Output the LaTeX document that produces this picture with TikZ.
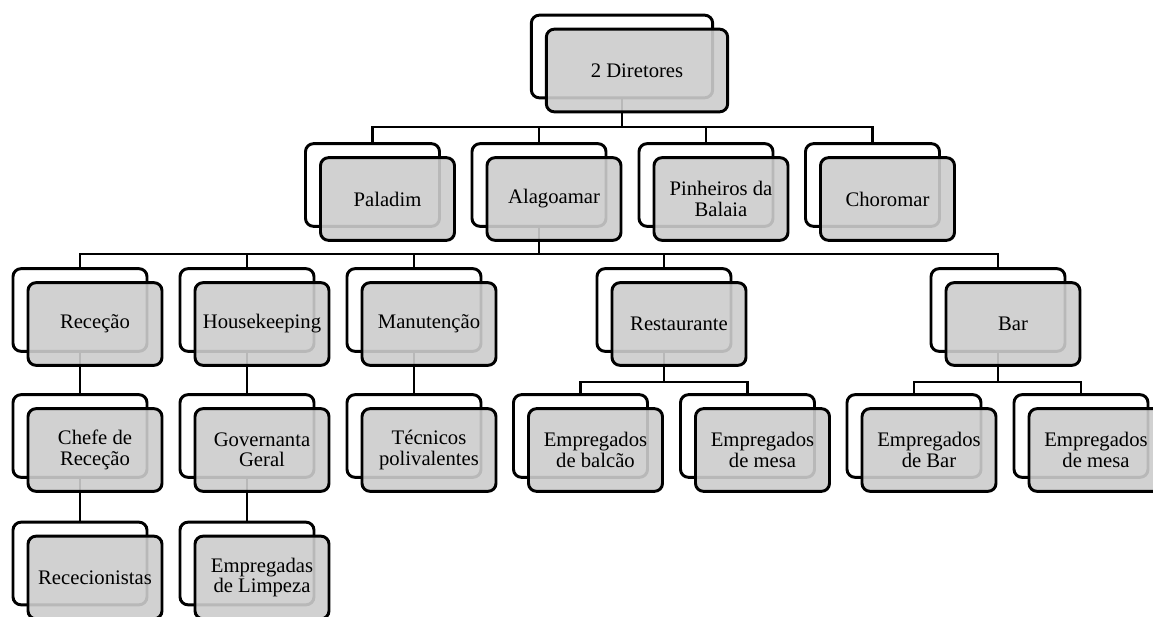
\documentclass[tikz,border=0pt]{standalone}
\usepackage{fontspec}
\setmainfont{Liberation Serif}
\definecolor{boxgray}{RGB}{204,204,204}
\tikzset{
  wbox/.style={draw=black, line width=2.2pt, rounded corners=6pt, fill=white,
    minimum width=#1, minimum height=62pt, inner sep=0pt},
  wbox/.default=100.5pt,
  gbox/.style={draw=black, line width=2.2pt, rounded corners=6pt, fill=boxgray,
    fill opacity=0.9, draw opacity=1, text opacity=1,
    minimum width=#1, minimum height=62pt, inner sep=0pt, align=center,
    font=\fontsize{15.5}{15.2}\selectfont},
  gbox/.default=100.5pt,
  conn/.style={draw=black, line width=2.2pt},
  gshift/.style={shift={(15,14)}}
}
\begin{document}
\begin{tikzpicture}[x=0.75pt,y=-0.75pt]
\useasboundingbox (0,0) rectangle (1153,617);
\begin{scope}
\clip (0,0) rectangle (1153,617);
% back (white) boxes
\node[wbox=136pt] (topw) at (622,56.5) {};
\node[wbox] (palw) at (372.5,185) {};
\node[wbox] (alaw) at (539,185) {};
\node[wbox] (pinw) at (706,185) {};
\node[wbox] (chow) at (872.5,185) {};
\node[wbox] (recw) at (80,310) {};
\node[wbox] (houw) at (247,310) {};
\node[wbox] (manw) at (414,310) {};
\node[wbox] (resw) at (664,310) {};
\node[wbox] (barw) at (998,310) {};
\node[wbox] (chefw) at (80,436) {};
\node[wbox] (govw) at (247,436) {};
\node[wbox] (tecw) at (414,436) {};
\node[wbox] (balw) at (580.5,436) {};
\node[wbox] (mesw) at (747.5,436) {};
\node[wbox] (ebarw) at (914,436) {};
\node[wbox] (mes2w) at (1081,436) {};
\node[wbox] (rcpw) at (80,563.5) {};
\node[wbox] (limw) at (247,563.5) {};
% buses
\coordinate (bus1) at (0,127);
\coordinate (bus2) at (0,254);
\coordinate (bus3) at (0,382);
% connectors
\foreach \c in {palw,alaw,pinw,chow}
  \draw[conn] (topw.south) -- (topw.south |- bus1) -| (\c.north);
\foreach \c in {recw,houw,manw,resw,barw}
  \draw[conn] (alaw.south) -- (alaw.south |- bus2) -| (\c.north);
\foreach \c in {balw,mesw}
  \draw[conn] (resw.south) -- (resw.south |- bus3) -| (\c.north);
\foreach \c in {ebarw,mes2w}
  \draw[conn] (barw.south) -- (barw.south |- bus3) -| (\c.north);
\draw[conn] (recw.south) -- (chefw.north);
\draw[conn] (houw.south) -- (govw.north);
\draw[conn] (manw.south) -- (tecw.north);
\draw[conn] (chefw.south) -- (rcpw.north);
\draw[conn] (govw.south) -- (limw.north);
% front (gray) boxes
\node[gbox=136pt] (top) at ([gshift]topw.center) {2 Diretores};
\node[gbox] (pal) at ([gshift]palw.center) {Paladim};
\node[gbox] (ala) at ([gshift]alaw.center) {Alagoamar};
\node[gbox] (pin) at ([gshift]pinw.center) {Pinheiros da\\Balaia};
\node[gbox] (cho) at ([gshift]chow.center) {Choromar};
\node[gbox] (rec) at ([gshift]recw.center) {Receção};
\node[gbox] (hou) at ([gshift]houw.center) {Housekeeping};
\node[gbox] (man) at ([gshift]manw.center) {Manutenção};
\node[gbox] (res) at ([gshift]resw.center) {Restaurante};
\node[gbox] (bar) at ([gshift]barw.center) {Bar};
\node[gbox] (chef) at ([gshift]chefw.center) {Chefe de\\Receção};
\node[gbox] (gov) at ([gshift]govw.center) {Governanta\\Geral};
\node[gbox] (tec) at ([gshift]tecw.center) {Técnicos\\polivalentes};
\node[gbox] (bal) at ([gshift]balw.center) {Empregados\\de balcão};
\node[gbox] (mes) at ([gshift]mesw.center) {Empregados\\de mesa};
\node[gbox] (ebar) at ([gshift]ebarw.center) {Empregados\\de Bar};
\node[gbox] (mes2) at ([gshift]mes2w.center) {Empregados\\de mesa};
\node[gbox] (rcp) at ([gshift]rcpw.center) {Rececionistas};
\node[gbox] (lim) at ([gshift]limw.center) {Empregadas\\de Limpeza};
\end{scope}
\end{tikzpicture}
\end{document}
